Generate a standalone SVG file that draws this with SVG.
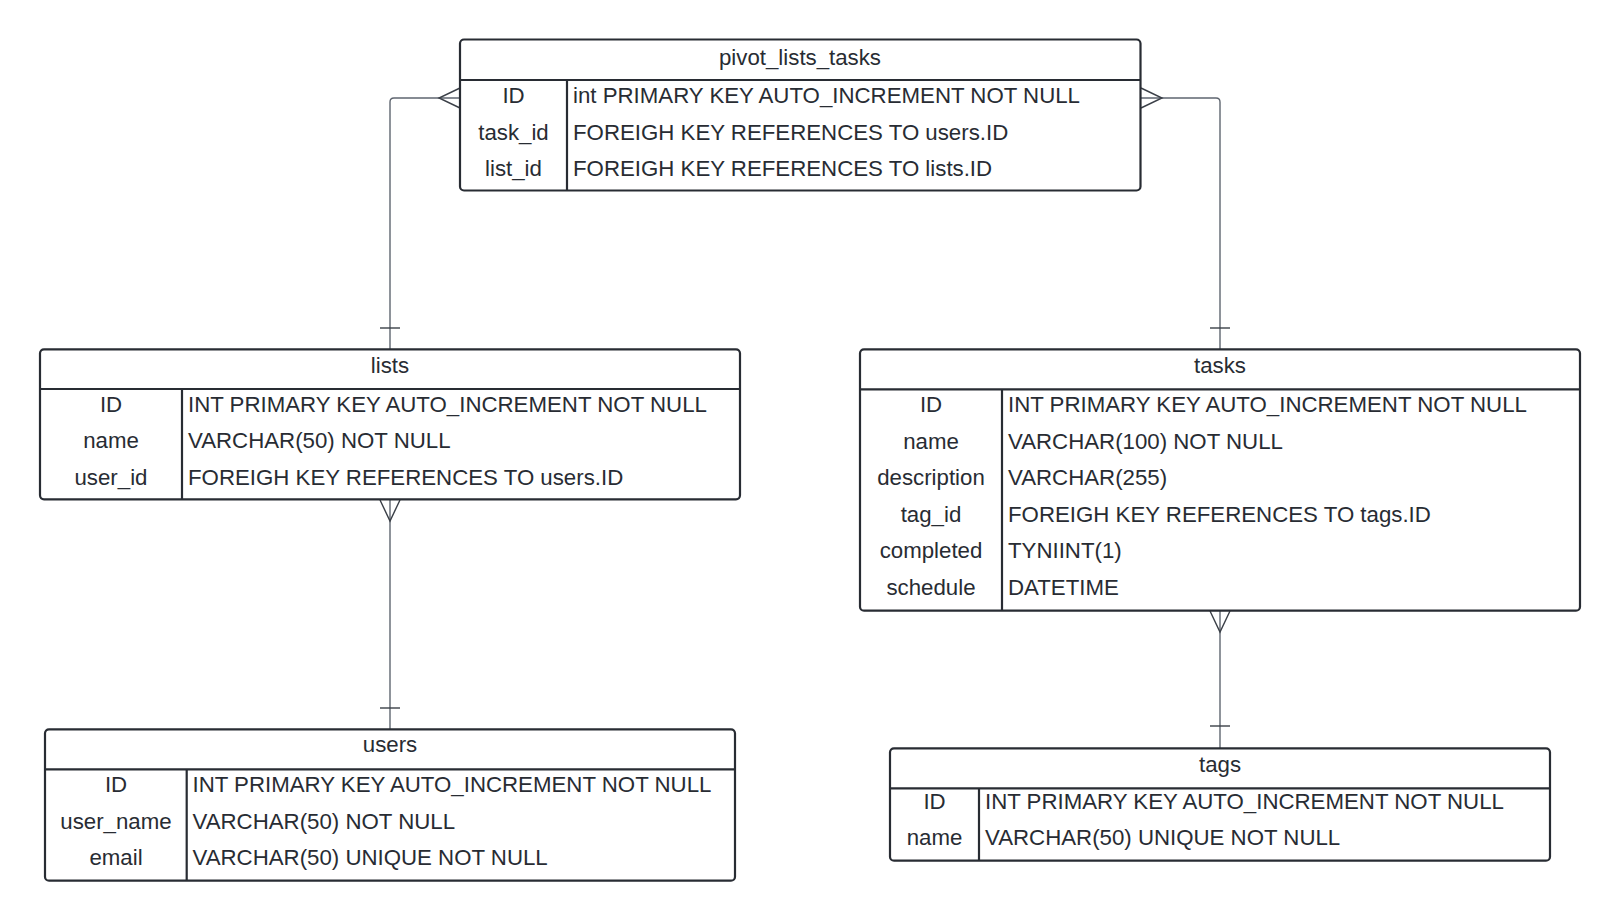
<svg xmlns="http://www.w3.org/2000/svg" width="1620" height="920" viewBox="0 0 1620 920">
<style>
.box{fill:#ffffff;stroke:#282c33;stroke-width:2.2}
.ln{stroke:#282c33;stroke-width:2.2;fill:none}
.t{font-family:"Liberation Sans",Arial,sans-serif;font-size:22.25px;fill:#282c33}
.c{text-anchor:middle}
.con{stroke:#5f6670;stroke-width:1.4;fill:none}
.crow{stroke:#3a3f47;stroke-width:1.4;fill:none}
</style>
<rect width="1620" height="920" fill="#ffffff"/>
<g id="connectors">
<path class="con" d="M390,349 V102 Q390,98 394,98 H460"/>
<path class="crow" d="M460,88 L439,98 L460,108"/>
<path class="crow" d="M380,328 H400"/>
<path class="con" d="M1220,349 V102 Q1220,98 1216,98 H1141"/>
<path class="crow" d="M1141,88 L1162,98 L1141,108"/>
<path class="crow" d="M1210,328 H1230"/>
<path class="con" d="M390,500 V729"/>
<path class="crow" d="M380,500 L390,521 L400,500"/>
<path class="crow" d="M380,708 H400"/>
<path class="con" d="M1220,611 V748"/>
<path class="crow" d="M1210,611 L1220,632 L1230,611"/>
<path class="crow" d="M1210,726 H1230"/>
</g>
<g id="pivot_lists_tasks">
<rect class="box" x="460" y="39.5" width="680.5" height="151" rx="4"/>
<path class="ln" d="M460,80 H1140.5 M567,80 V190.5"/>
<text class="t c" x="800" y="64.5">pivot_lists_tasks</text>
<text class="t c" x="513.5" y="103">ID</text>
<text class="t c" x="513.5" y="139.5">task_id</text>
<text class="t c" x="513.5" y="175.5">list_id</text>
<text class="t" x="573" y="103">int PRIMARY KEY AUTO_INCREMENT NOT NULL</text>
<text class="t" x="573" y="139.5">FOREIGH KEY REFERENCES TO users.ID</text>
<text class="t" x="573" y="175.5">FOREIGH KEY REFERENCES TO lists.ID</text>
</g>
<g id="lists">
<rect class="box" x="40" y="349.3" width="700" height="150" rx="4"/>
<path class="ln" d="M40,389 H740 M182,389 V499.3"/>
<text class="t c" x="390" y="372.5">lists</text>
<text class="t c" x="111" y="411.5">ID</text>
<text class="t c" x="111" y="448">name</text>
<text class="t c" x="111" y="484.5">user_id</text>
<text class="t" x="188" y="411.5">INT PRIMARY KEY AUTO_INCREMENT NOT NULL</text>
<text class="t" x="188" y="448">VARCHAR(50) NOT NULL</text>
<text class="t" x="188" y="484.5">FOREIGH KEY REFERENCES TO users.ID</text>
</g>
<g id="tasks">
<rect class="box" x="860" y="349.3" width="720" height="261.4" rx="4"/>
<path class="ln" d="M860,389.3 H1580 M1002,389.3 V610.7"/>
<text class="t c" x="1220" y="372.5">tasks</text>
<text class="t c" x="931" y="412">ID</text>
<text class="t c" x="931" y="448.5">name</text>
<text class="t c" x="931" y="485">description</text>
<text class="t c" x="931" y="521.5">tag_id</text>
<text class="t c" x="931" y="558">completed</text>
<text class="t c" x="931" y="594.5">schedule</text>
<text class="t" x="1008" y="412">INT PRIMARY KEY AUTO_INCREMENT NOT NULL</text>
<text class="t" x="1008" y="448.5">VARCHAR(100) NOT NULL</text>
<text class="t" x="1008" y="485">VARCHAR(255)</text>
<text class="t" x="1008" y="521.5">FOREIGH KEY REFERENCES TO tags.ID</text>
<text class="t" x="1008" y="558">TYNIINT(1)</text>
<text class="t" x="1008" y="594.5">DATETIME</text>
</g>
<g id="users">
<rect class="box" x="45" y="729.3" width="690" height="151.4" rx="4"/>
<path class="ln" d="M45,769.3 H735 M186.7,769.3 V880.7"/>
<text class="t c" x="390" y="751.5">users</text>
<text class="t c" x="116" y="792">ID</text>
<text class="t c" x="116" y="828.5">user_name</text>
<text class="t c" x="116" y="865">email</text>
<text class="t" x="192.5" y="792">INT PRIMARY KEY AUTO_INCREMENT NOT NULL</text>
<text class="t" x="192.5" y="828.5">VARCHAR(50) NOT NULL</text>
<text class="t" x="192.5" y="865">VARCHAR(50) UNIQUE NOT NULL</text>
</g>
<g id="tags">
<rect class="box" x="890" y="748.3" width="660" height="112.4" rx="4"/>
<path class="ln" d="M890,788.3 H1550 M979,788.3 V860.7"/>
<text class="t c" x="1220" y="771.5">tags</text>
<text class="t c" x="934.5" y="808.5">ID</text>
<text class="t c" x="934.5" y="845">name</text>
<text class="t" x="985" y="808.5">INT PRIMARY KEY AUTO_INCREMENT NOT NULL</text>
<text class="t" x="985" y="845">VARCHAR(50) UNIQUE NOT NULL</text>
</g>
</svg>
